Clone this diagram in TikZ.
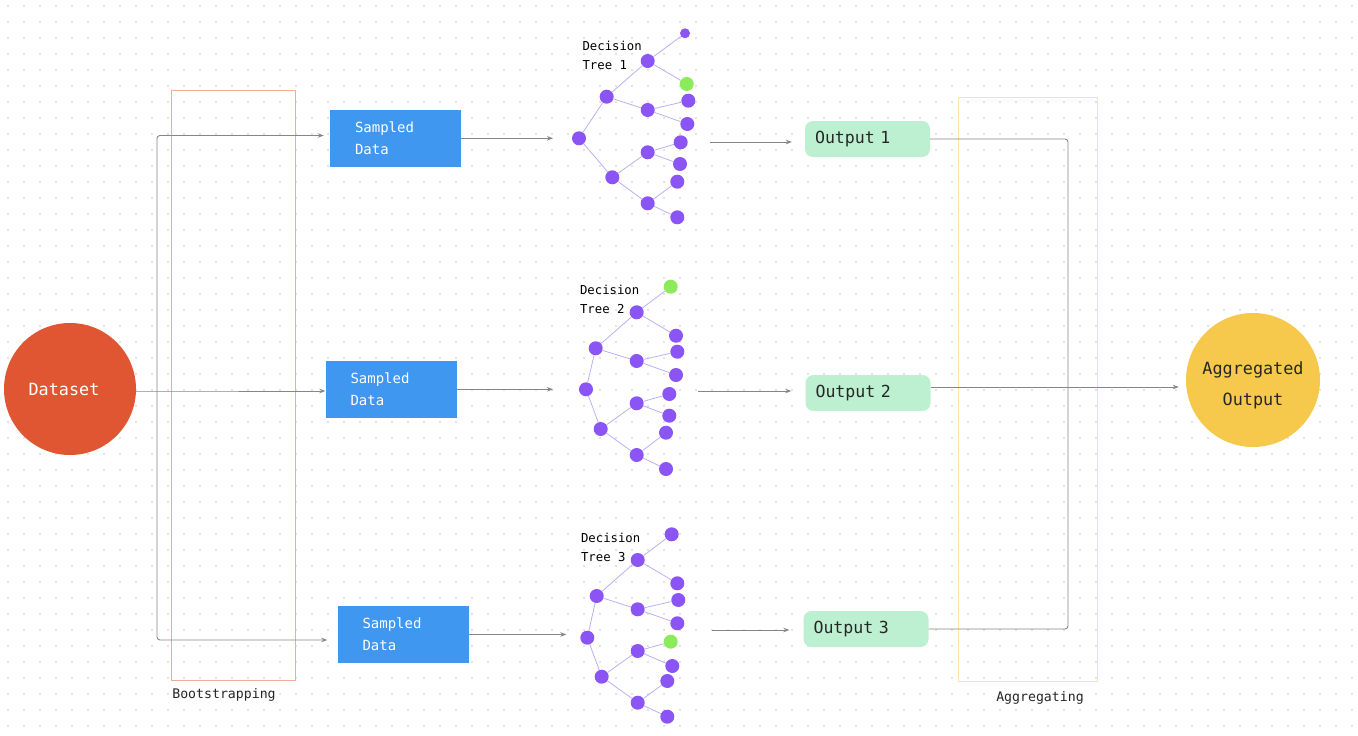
\documentclass[tikz,border=0pt]{standalone}
\usepackage{fontspec}
\setmonofont{DejaVu Sans Mono}
\usetikzlibrary{arrows.meta}
\definecolor{dsred}{RGB}{224,85,50}
\definecolor{sdblue}{RGB}{63,151,240}
\definecolor{outgreen}{RGB}{189,240,208}
\definecolor{aggyellow}{RGB}{246,201,76}
\definecolor{bootc}{RGB}{240,172,152}
\definecolor{aggc}{RGB}{251,226,175}
\definecolor{treep}{RGB}{139,84,245}
\definecolor{treeg}{RGB}{140,235,90}
\definecolor{edgep}{RGB}{190,175,245}
\definecolor{linec}{RGB}{135,135,135}
\definecolor{dotc}{RGB}{200,200,200}
\tikzset{
  conn/.style={draw=linec, line width=0.9pt},
  arr/.style={conn, -{Stealth[length=6pt,width=4.5pt]}},
  sdbox/.style={fill=sdblue, minimum width=131pt, minimum height=57pt, text width=81pt, inner xsep=25pt, inner ysep=0pt, align=left, text=white, font=\ttfamily\fontsize{14}{22}\selectfont},
  outbox/.style={fill=outgreen, rounded corners=8pt, minimum width=125pt, minimum height=36pt, text width=105pt, inner xsep=10pt, inner ysep=0pt, align=left, text=black!85, font=\ttfamily\fontsize{16.6}{20}\selectfont},
  tn/.style={circle, fill=treep, minimum size=14pt, inner sep=0pt},
  tg/.style={circle, fill=treeg, minimum size=14pt, inner sep=0pt},
  tedge/.style={draw=edgep, line width=0.8pt},
  tlabel/.style={anchor=west, align=left, text=black, font=\ttfamily\fontsize{12.3}{19}\selectfont},
  grouplabel/.style={text=black!85, font=\ttfamily\fontsize{13.2}{16}\selectfont},
}
\begin{document}
\begin{tikzpicture}[x=1pt,y=-1pt]
\useasboundingbox (0,0) rectangle (1358,736);
\fill[white] (0,0) rectangle (1358,736);
\foreach \i in {0,...,84} {\foreach \j in {0,...,45} {\fill[dotc] (8+16*\i,6+16*\j) circle (0.9pt);}}

% group frames
\node[draw=bootc, line width=0.8pt, minimum width=124pt, minimum height=590pt, inner sep=0pt] (boot) at (233,385) {};
\node[grouplabel] (bootlab) at (224,695) {Bootstrapping};
\node[draw=aggc, line width=0.8pt, minimum width=139pt, minimum height=584pt, inner sep=0pt] (aggbox) at (1027.5,389) {};
\node[grouplabel] (agglab) at (1040,698) {Aggregating};

% dataset
\node[circle, fill=dsred, minimum size=132pt, inner sep=0pt,
  label={[xshift=-6pt, text=white, font=\ttfamily\fontsize{16.8}{20}\selectfont]center:Dataset}] (ds) at (70,389) {};

% sampled data
\node[sdbox] (sd1) at (395.5,138) {Sampled\\Data};
\node[sdbox] (sd2) at (391,389.5) {Sampled\\Data};
\node[sdbox] (sd3) at (403,634.5) {Sampled\\Data};

% outputs
\node[outbox] (o1) at (867.5,139) {Output 1};
\node[outbox] (o2) at (868,393) {Output 2};
\node[outbox] (o3) at (866,629) {Output 3};

% aggregated output
\node[circle, fill=aggyellow, minimum size=134pt, inner sep=0pt,
  label={[yshift=-5pt, align=center, text=black!85, font=\ttfamily\fontsize{16.8}{31}\selectfont]center:Aggregated\\Output}] (agg) at (1253,380) {};

% ---------- tree 1
\node[tlabel] (t1lab) at (579,55.5) {Decision\\Tree 1};
\node[tn] (t1r) at (579,138.3) {};
\node[tn] (t1c) at (606.7,96.7) {};
\node[tn] (t1f) at (612.3,177.3) {};
\node[tn] (t1b) at (647.7,61) {};
\node[tn] (t1d) at (647.7,110) {};
\node[tn] (t1e) at (647.7,152.3) {};
\node[tn] (t1g) at (647.7,203.3) {};
\node[tn, minimum size=10pt] (t1l1) at (685,33.3) {};
\node[tg] (t1l2) at (686.7,84) {};
\node[tn] (t1l3) at (688.3,100.7) {};
\node[tn] (t1l4) at (687.3,124) {};
\node[tn] (t1l5) at (680.7,142.3) {};
\node[tn] (t1l6) at (680,164) {};
\node[tn] (t1l7) at (677.3,181.7) {};
\node[tn] (t1l8) at (677.3,217.3) {};
\draw[tedge] (t1r) -- (t1c) (t1r) -- (t1f) (t1c) -- (t1b) (t1c) -- (t1d) (t1f) -- (t1e) (t1f) -- (t1g)
  (t1b) -- (t1l1) (t1b) -- (t1l2) (t1d) -- (t1l3) (t1d) -- (t1l4) (t1e) -- (t1l5) (t1e) -- (t1l6) (t1g) -- (t1l7) (t1g) -- (t1l8);

% ---------- tree 2
\node[tlabel] (t2lab) at (576.5,299.5) {Decision\\Tree 2};
\node[tn] (t2r) at (586,389.3) {};
\node[tn] (t2c) at (595.7,348.3) {};
\node[tn] (t2f) at (600.7,429) {};
\node[tn] (t2b) at (636.7,312.3) {};
\node[tn] (t2d) at (636.7,361) {};
\node[tn] (t2e) at (636.7,403.3) {};
\node[tn] (t2g) at (636.7,455) {};
\node[tg] (t2l1) at (670.7,286.7) {};
\node[tn] (t2l2) at (676,335.7) {};
\node[tn] (t2l3) at (677.3,351.7) {};
\node[tn] (t2l4) at (676,375) {};
\node[tn] (t2l5) at (669.3,394) {};
\node[tn] (t2l6) at (669.3,415.7) {};
\node[tn] (t2l7) at (666,432.7) {};
\node[tn] (t2l8) at (666,469) {};
\draw[tedge] (t2r) -- (t2c) (t2r) -- (t2f) (t2c) -- (t2b) (t2c) -- (t2d) (t2f) -- (t2e) (t2f) -- (t2g)
  (t2b) -- (t2l1) (t2b) -- (t2l2) (t2d) -- (t2l3) (t2d) -- (t2l4) (t2e) -- (t2l5) (t2e) -- (t2l6) (t2g) -- (t2l7) (t2g) -- (t2l8);

% ---------- tree 3
\node[tlabel] (t3lab) at (577.5,547.5) {Decision\\Tree 3};
\node[tn] (t3r) at (587.3,637.7) {};
\node[tn] (t3c) at (596.7,596) {};
\node[tn] (t3f) at (601.7,676.7) {};
\node[tn] (t3b) at (637.7,560) {};
\node[tn] (t3d) at (637.7,609.3) {};
\node[tn] (t3e) at (637.7,651) {};
\node[tn] (t3g) at (637.7,702.7) {};
\node[tn] (t3l1) at (671.7,534.3) {};
\node[tn] (t3l2) at (677.3,583.3) {};
\node[tn] (t3l3) at (678.3,600) {};
\node[tn] (t3l4) at (677.3,623.3) {};
\node[tg] (t3l5) at (670.7,641.7) {};
\node[tn] (t3l6) at (672.3,666) {};
\node[tn] (t3l7) at (667.3,681) {};
\node[tn] (t3l8) at (667.3,716.7) {};
\draw[tedge] (t3r) -- (t3c) (t3r) -- (t3f) (t3c) -- (t3b) (t3c) -- (t3d) (t3f) -- (t3e) (t3f) -- (t3g)
  (t3b) -- (t3l1) (t3b) -- (t3l2) (t3d) -- (t3l3) (t3d) -- (t3l4) (t3e) -- (t3l5) (t3e) -- (t3l6) (t3g) -- (t3l7) (t3g) -- (t3l8);

% ---------- connectors: bootstrapping
\coordinate (split) at (157,391);
\draw[arr] (ds.east |- split) -- (split) -- (split -| sd2.west);
\draw[arr, rounded corners=3pt, shorten >=6pt] (split) |- ([yshift=2.5pt]sd1.west);
\draw[arr, rounded corners=3pt, shorten >=10pt] (split) |- ([yshift=-5.5pt]sd3.west);

% sampled data -> trees
\draw[arr] (sd1.east |- t1r) -- ([xshift=-26pt]t1r.center);
\draw[arr] (sd2.east |- t2r) -- ([xshift=-33pt]t2r.center);
\draw[arr, shorten >=21pt] (sd3.east) -- (sd3.east -| t3r.center);

% trees -> outputs
\coordinate (t1out) at (710,142);
\coordinate (t2out) at (698,391);
\coordinate (t3out) at (712,630);
\draw[arr, shorten >=13pt] (t1out) -- (t1out -| o1.west);
\draw[arr, shorten >=14pt] (t2out) -- (t2out -| o2.west);
\draw[arr, shorten >=14pt] (t3out) -- (t3out -| o3.west);

% aggregating
\coordinate (join) at (1068,391);
\draw[conn, rounded corners=3pt] (o1.east) -| (join) |- (o3.east);
\draw[arr, shorten >=7pt] ([yshift=6pt]o2.east) -- ([yshift=6pt]o2.east -| agg.west);
\end{tikzpicture}
\end{document}
